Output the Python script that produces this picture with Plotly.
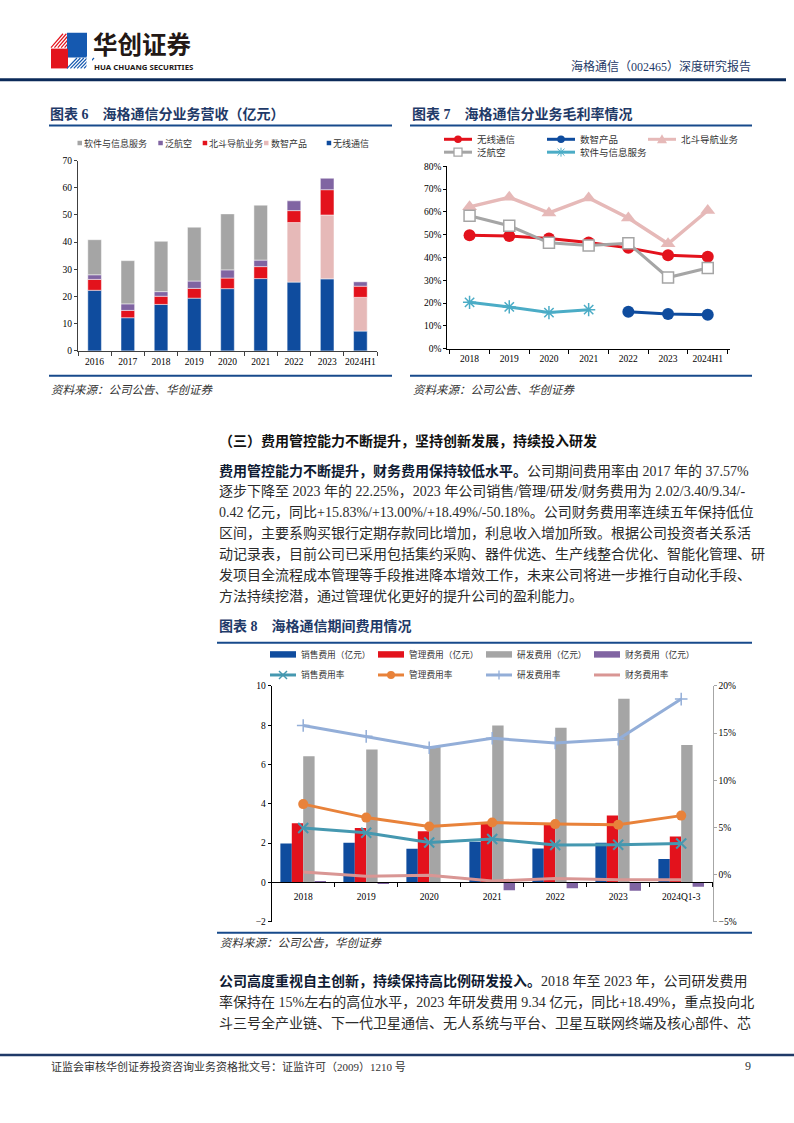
import plotly.graph_objects as go

W, H = 794, 1123

# ---------------- data ----------------
# 图表 6 分业务营收（亿元）
years6 = ['2016', '2017', '2018', '2019', '2020', '2021', '2022', '2023', '2024H1']
rev_wireless = [22.3, 12.2, 17.1, 19.4, 22.9, 26.6, 25.3, 26.5, 7.3]
rev_digital = [None, None, None, None, None, None, 21.9, 23.5, 12.4]
rev_beidou = [4.0, 2.7, 3.0, 3.6, 3.9, 4.4, 4.4, 9.3, 4.1]
rev_aviation = [1.7, 2.4, 1.7, 2.7, 3.0, 2.4, 3.6, 4.2, 1.6]
rev_software = [12.9, 15.9, 18.5, 19.8, 20.6, 20.2, None, None, None]
names6 = ['软件与信息服务', '泛航空', '北斗导航业务', '数智产品', '无线通信']

# 图表 7 分业务毛利率（%）
years7 = ['2018', '2019', '2020', '2021', '2022', '2023', '2024H1']
gm_wireless = [49.7, 49.4, 48.3, 46.6, 44.2, 41.0, 40.3]
gm_digital = [None, None, None, None, 16.2, 15.2, 14.9]
gm_beidou = [62.2, 66.4, 59.5, 66.1, 57.3, 46.0, 60.6]
gm_aviation = [58.3, 53.9, 46.4, 45.2, 46.2, 31.2, 35.4]
gm_software = [20.3, 18.3, 15.8, 17.1, None, None, None]
names7 = ['无线通信', '数智产品', '北斗导航业务', '泛航空', '软件与信息服务']

# 图表 8 期间费用（亿元）与费用率（%）
years8 = ['2018', '2019', '2020', '2021', '2022', '2023', '2024Q1-3']
exp_sales = [1.98, 2.02, 1.71, 2.07, 1.73, 2.02, 1.19]
exp_admin = [3.01, 2.77, 2.61, 3.01, 3.01, 3.40, 2.34]
exp_rnd = [6.42, 6.76, 6.92, 7.98, 7.87, 9.34, 6.99]
exp_fin = [0.05, -0.05, -0.02, -0.40, -0.29, -0.42, -0.22]
rate_sales = [4.93, 4.44, 3.40, 3.78, 3.13, 3.16, 3.30]
rate_admin = [7.47, 6.04, 5.10, 5.52, 5.35, 5.28, 6.25]
rate_rnd = [15.8, 14.65, 13.45, 14.45, 13.95, 14.35, 18.6]
rate_fin = [0.28, -0.17, -0.07, -0.69, -0.42, -0.56, -0.56]
names8_bar = ['销售费用（亿元）', '管理费用（亿元）', '研发费用（亿元）', '财务费用（亿元）']
names8_line = ['销售费用率', '管理费用率', '研发费用率', '财务费用率']

# ---------------- style ----------------
C_BLUE = '#0F4C9E'
C_RED = '#E3121C'
C_PINK = '#E6B9B8'
C_PURPLE = '#8064A2'
C_GRAY = '#A5A5A5'
C_CYAN = '#4BACC6'
C_TEAL = '#4598B0'
C_ORANGE = '#E8823A'
C_LBLUE = '#93AED8'
C_FPINK = '#D99694'
NAVY = '#1F3A68'
LINEBLUE = '#174A8B'
SERIF = 'Liberation Serif, Noto Sans CJK SC'
CJK = 'Noto Sans CJK SC'


def px(x):
    return x / W


def py(y):
    return 1 - y / H


fig = go.Figure()

# ---------------- 图表 6 ----------------
stack6 = [(rev_wireless, C_BLUE, names6[4]), (rev_digital, C_PINK, names6[3]),
          (rev_beidou, C_RED, names6[2]), (rev_aviation, C_PURPLE, names6[1]),
          (rev_software, C_GRAY, names6[0])]
base = [0.0] * len(years6)
for vals, col, nm in stack6:
    fig.add_trace(go.Bar(x=years6, y=vals, base=list(base), width=0.41, name=nm,
                         marker=dict(color=col, line=dict(color='rgba(255,255,255,0.8)', width=0.6)),
                         xaxis='x', yaxis='y', showlegend=False))
    base = [b + (v or 0) for b, v in zip(base, vals)]

# ---------------- 图表 7 ----------------
series7 = [
    (gm_wireless, C_RED, dict(symbol='circle', size=12, color=C_RED), 3),
    (gm_digital, C_BLUE, dict(symbol='circle', size=12, color=C_BLUE), 3),
    (gm_beidou, C_PINK, dict(symbol='triangle-up', size=13, color=C_PINK), 3.5),
    (gm_aviation, C_GRAY, dict(symbol='square', size=11, color='white', line=dict(color=C_GRAY, width=1.5)), 3),
    (gm_software, C_CYAN, dict(symbol='asterisk', size=11, color=C_CYAN, line=dict(color=C_CYAN, width=1.5)), 3),
]
for (vals, col, mk, lw), nm in zip(series7, names7):
    fig.add_trace(go.Scatter(x=years7, y=vals, mode='lines+markers', name=nm,
                             line=dict(color=col, width=lw), marker=mk, connectgaps=False,
                             xaxis='x2', yaxis='y2', showlegend=False, cliponaxis=False))

# ---------------- 图表 8 ----------------
bw = 0.181
bars8 = [(exp_sales, C_BLUE), (exp_admin, C_RED), (exp_rnd, C_GRAY), (exp_fin, C_PURPLE)]
for k, ((vals, col), nm) in enumerate(zip(bars8, names8_bar)):
    fig.add_trace(go.Bar(x=years8, y=vals, width=bw, offset=-2 * bw + k * bw, name=nm,
                         marker=dict(color=col, line=dict(width=0)),
                         xaxis='x3', yaxis='y3', showlegend=False))
lines8 = [
    (rate_sales, C_TEAL, dict(symbol='x-thin', size=10, color=C_TEAL, line=dict(color=C_TEAL, width=2))),
    (rate_admin, C_ORANGE, dict(symbol='circle', size=10, color=C_ORANGE)),
    (rate_rnd, C_LBLUE, dict(symbol='cross-thin', size=9, color=C_LBLUE, line=dict(color=C_LBLUE, width=1.5))),
    (rate_fin, C_FPINK, dict(size=1, opacity=0)),
]
for (vals, col, mk), nm in zip(lines8, names8_line):
    fig.add_trace(go.Scatter(x=years8, y=vals, mode='lines+markers', name=nm,
                             line=dict(color=col, width=3), marker=mk,
                             xaxis='x3', yaxis='y4', showlegend=False, cliponaxis=False))

# ---------------- axes ----------------
tickf = dict(family=SERIF, size=9.5, color='#000000')
common = dict(showgrid=False, zeroline=False, fixedrange=True, tickfont=tickf)

fig.update_layout(
    width=W, height=H, margin=dict(l=0, r=0, t=0, b=0),
    paper_bgcolor='white', plot_bgcolor='rgba(0,0,0,0)',
    barmode='overlay', showlegend=False,
    font=dict(family=SERIF, color='#222'),
    xaxis=dict(domain=[px(78), px(377)], anchor='y', type='category', showline=True,
               linecolor='#404040', linewidth=1, ticks='outside', tickson='boundaries',
               ticklen=4, tickcolor='#404040', tickangle=0, ticklabelstandoff=2, **common),
    yaxis=dict(domain=[py(349), py(157)], anchor='x', range=[0, 70], dtick=10, showline=True,
               linecolor='#404040', linewidth=1, ticks='outside', ticklen=3, tickcolor='#404040', **common),
    xaxis2=dict(domain=[px(447.3), px(730)], anchor='y2', type='category', showline=True,
                linecolor='#000', linewidth=1, ticks='outside', tickson='boundaries',
                ticklen=4, tickcolor='#000', tickangle=0, ticklabelstandoff=1, **common),
    yaxis2=dict(domain=[py(346.7), py(162.7)], anchor='x2', range=[0, 80], dtick=10, ticksuffix='%',
                showline=True, linecolor='#000', linewidth=1, ticks='outside', ticklen=3,
                tickcolor='#000', **common),
    xaxis3=dict(domain=[px(271.7), px(712.7)], anchor='free', position=py(885), type='category',
                showline=True, linecolor='#000', linewidth=1, ticks='outside', tickson='boundaries',
                ticklen=4, tickcolor='#000', tickangle=0, ticklabelstandoff=5, **common),
    yaxis3=dict(domain=[py(925), py(687)], anchor='x3', range=[-2, 10], dtick=2, showline=True,
                linecolor='#000', linewidth=1, ticks='outside', ticklen=3, tickcolor='#000', **common),
    yaxis4=dict(overlaying='y3', side='right', anchor='x3', range=[-5, 20], dtick=5, ticksuffix='%',
                showline=True, linecolor='#A6A6A6', linewidth=1, ticks='outside', ticklen=3,
                tickcolor='#A6A6A6', **common),
)

# ---------------- decorations ----------------
shapes = []


def hline(x0, x1, y, color, width):
    shapes.append(dict(type='line', xref='paper', yref='paper', x0=px(x0), x1=px(x1),
                       y0=py(y), y1=py(y), line=dict(color=color, width=width)))


def seg(x0, y0, x1, y1, color, width):
    shapes.append(dict(type='line', xref='paper', yref='paper', x0=px(x0), x1=px(x1),
                       y0=py(y0), y1=py(y1), line=dict(color=color, width=width)))


def rect(x0, y0, x1, y1, fill, lc=None, lw=0):
    shapes.append(dict(type='rect', xref='paper', yref='paper', x0=px(x0), x1=px(x1),
                       y0=py(y1), y1=py(y0), fillcolor=fill,
                       line=dict(color=lc or fill, width=lw)))


def circ(cx, cy, r, fill):
    shapes.append(dict(type='circle', xref='paper', yref='paper', x0=px(cx - r), x1=px(cx + r),
                       y0=py(cy + r), y1=py(cy - r), fillcolor=fill, line=dict(color=fill, width=0)))


def poly(pts, fill):
    d = 'M ' + ' L '.join(f'{px(x):.5f},{py(y):.5f}' for x, y in pts) + ' Z'
    shapes.append(dict(type='path', xref='paper', yref='paper', path=d, fillcolor=fill,
                       line=dict(color=fill, width=0)))


def txt(x, y, s, size=14, color='#222', family=SERIF, anchor='left', italic=False):
    fig.add_annotation(x=px(x), y=py(y), xref='paper', yref='paper', text=s, showarrow=False,
                       xanchor=anchor, yanchor='middle', align='left', borderpad=0,
                       font=dict(size=size, color=color, family=family,
                                 style='italic' if italic else 'normal'))


# header logo
for i in range(6):
    seg(51 + i * 3.4, 43, 63 + i * 3.4, 29, C_RED, 1.2)
rect(67, 28, 87, 53, '#1559B0')
rect(51, 44, 68, 64, '#E3141C')
for i in range(6):
    seg(67 + i * 3.4, 64, 77 + i * 3.4, 53.5, '#1559B0', 1.2)
rect(86.5, 52, 92, 66, 'white')
txt(92, 39.3, '<b>华创证券</b>', size=24.5, color='#231815', family=CJK)
txt(93, 62.3, '<b>HUA CHUANG SECURITIES</b>', size=7.8, color='#231815', family='Noto Sans')
txt(752, 62, '海格通信（002465）深度研究报告', size=12, color=NAVY, anchor='right')
hline(0, 786, 75.5, '#0B2A59', 3)

# chart titles, rules and sources
txt(49, 110, '<b>图表 6　海格通信分业务营收（亿元）</b>', size=14, color=NAVY)
hline(49, 392, 121.5, LINEBLUE, 2)
hline(49, 392, 374, LINEBLUE, 2)
txt(50, 388, '资料来源：公司公告、华创证券', size=11.5, color='#333', italic=True)

txt(411, 110, '<b>图表 7　海格通信分业务毛利率情况</b>', size=14, color=NAVY)
hline(410, 752, 121.5, LINEBLUE, 2)
hline(410, 752, 374, LINEBLUE, 2)
txt(412, 388, '资料来源：公司公告、华创证券', size=11.5, color='#333', italic=True)

txt(218, 627, '<b>图表 8　海格通信期间费用情况</b>', size=14, color=NAVY)
hline(217, 752, 643.5, LINEBLUE, 2)
hline(217, 752, 936, LINEBLUE, 2)
txt(219, 946.5, '资料来源：公司公告，华创证券', size=11.5, color='#333', italic=True)

# legend 6
leg6_x = [77.5, 158.3, 202.7, 264.0, 326.7]
leg6_c = [C_GRAY, C_PURPLE, C_RED, C_PINK, C_BLUE]
for x0, c, nm in zip(leg6_x, leg6_c, names6):
    rect(x0, 137, x0 + 4.5, 141.5, c)
    txt(x0 + 5.5, 139.3, nm, size=9, color='#333', family=CJK)

# legend 7
leg7 = [(444, 135.5, C_RED, 'circle'), (547, 135.5, C_BLUE, 'circle'), (648, 135.5, C_PINK, 'tri'),
        (444, 148.5, C_GRAY, 'square'), (547, 148.5, C_CYAN, 'star')]
for (x0, y0, c, m), nm in zip(leg7, names7):
    seg(x0, y0, x0 + 28, y0, c, 3)
    cx = x0 + 14
    if m == 'circle':
        circ(cx, y0, 3.8, c)
    elif m == 'tri':
        poly([(cx - 5, y0 + 4), (cx + 5, y0 + 4), (cx, y0 - 5)], c)
    elif m == 'square':
        rect(cx - 4, y0 - 4, cx + 4, y0 + 4, 'white', C_GRAY, 1.3)
    else:
        seg(cx - 3.5, y0 - 3.5, cx + 3.5, y0 + 3.5, c, 1)
        seg(cx - 3.5, y0 + 3.5, cx + 3.5, y0 - 3.5, c, 1)
        seg(cx, y0 - 4.5, cx, y0 + 4.5, c, 1)
    txt(x0 + 31.5, y0, nm, size=9.5, color='#333', family=CJK)

# legend 8
leg8_x = [270, 378, 486, 594]
for x0, c, nm in zip(leg8_x, [C_BLUE, C_RED, C_GRAY, C_PURPLE], names8_bar):
    rect(x0, 652, x0 + 26, 658.5, c)
    txt(x0 + 29.5, 655.2, nm, size=8.7, color='#333', family=CJK)
for i, (x0, c, nm) in enumerate(zip(leg8_x, [C_TEAL, C_ORANGE, C_LBLUE, C_FPINK], names8_line)):
    seg(x0, 676, x0 + 26, 676, c, 3)
    cx = x0 + 13
    if i == 0:
        seg(cx - 4, 672, cx + 4, 680, c, 1.5)
        seg(cx - 4, 680, cx + 4, 672, c, 1.5)
    elif i == 1:
        circ(cx, 676, 4, c)
    elif i == 2:
        seg(cx, 671.5, cx, 680.5, c, 1.3)
    txt(x0 + 29.5, 676, nm, size=8.7, color='#333', family=CJK)

# body text
BOLD = '#0F1B33'
BODY = '#2B2B2B'
txt(218, 440, '<b>（三）费用管控能力不断提升，坚持创新发展，持续投入研发</b>', size=14, color='#111')
para1 = [
    f'<b><span style="color:{BOLD}">费用管控能力不断提升，财务费用保持较低水平。</span></b>公司期间费用率由 2017 年的 37.57%',
    '逐步下降至 2023 年的 22.25%，2023 年公司销售/管理/研发/财务费用为 2.02/3.40/9.34/-',
    '0.42 亿元，同比+15.83%/+13.00%/+18.49%/-50.18%。公司财务费用率连续五年保持低位',
    '区间，主要系购买银行定期存款同比增加，利息收入增加所致。根据公司投资者关系活',
    '动记录表，目前公司已采用包括集约采购、器件优选、生产线整合优化、智能化管理、研',
    '发项目全流程成本管理等手段推进降本增效工作，未来公司将进一步推行自动化手段、',
    '方法持续挖潜，通过管理优化更好的提升公司的盈利能力。',
]
for i, s in enumerate(para1):
    txt(218, 470 + 21 * i, s, size=14, color=BODY)

para2 = [
    f'<b><span style="color:{BOLD}">公司高度重视自主创新，持续保持高比例研发投入。</span></b>2018 年至 2023 年，公司研发费用',
    '率保持在 15%左右的高位水平，2023 年研发费用 9.34 亿元，同比+18.49%，重点投向北',
    '斗三号全产业链、下一代卫星通信、无人系统与平台、卫星互联网终端及核心部件、芯',
]
for i, s in enumerate(para2):
    txt(218, 985 + 21 * i, s, size=14, color=BODY)

# footer
hline(0, 794, 1059.5, '#1F3A68', 2.5)
txt(50, 1071, '证监会审核华创证券投资咨询业务资格批文号：证监许可（2009）1210 号', size=11, color='#333')
txt(752, 1071, '9', size=12, color='#333', anchor='right')

fig.update_layout(shapes=shapes)
fig.write_html('out.html', config={'displayModeBar': False},
               post_script="document.body.style.margin='0';")
